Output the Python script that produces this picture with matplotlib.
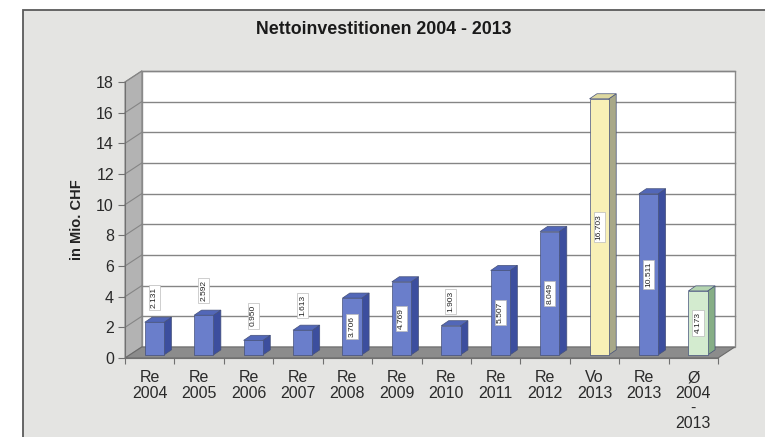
import numpy as np
import matplotlib.pyplot as plt
from matplotlib.patches import Polygon, Rectangle

# Data
categories = ['Re\n2004', 'Re\n2005', 'Re\n2006', 'Re\n2007', 'Re\n2008', 'Re\n2009',
              'Re\n2010', 'Re\n2011', 'Re\n2012', 'Vo\n2013', 'Re\n2013', 'Ø\n2004\n-\n2013']
values = [2.131, 2.592, 0.950, 1.613, 3.706, 4.769, 1.903, 5.507, 8.049, 16.703, 10.511, 4.173]
value_labels = ['2.131', '2.592', '0.950', '1.613', '3.706', '4.769', '1.903', '5.507',
                '8.049', '16.703', '10.511', '4.173']
yticks = [0, 2, 4, 6, 8, 10, 12, 14, 16, 18]

# colours (front, side, top)
blue = ('#6a7ecb', '#3c4e9e', '#5267b8')
yellow = ('#f8f0b6', '#a8a888', '#ddd8a0')
green = ('#d3ebcf', '#86ae86', '#b4d4b0')
bar_colors = [blue] * 9 + [yellow, blue, green]

# 3D look: wall depth and bar depth in data units
DX, DY = 0.34, 0.72
BDX, BDY = 0.15, 0.33
Z0 = 0.2          # bar base sits slightly behind the front edge
X0, W = 0.40, 0.39

fig = plt.figure(figsize=(7.65, 4.37), dpi=100)
fig.patch.set_facecolor('white')

# grey panel with dark frame
panel = Rectangle((23 / 765, -0.01), 1.0, 1 - 10 / 437 + 0.01, transform=fig.transFigure,
                  facecolor='#e4e4e2', edgecolor='#5a5a5a', linewidth=1.3, zorder=-1)
fig.patches.append(panel)

ax = fig.add_axes([125 / 765, (437 - 358) / 437, (718 - 125) / 765, (358 - 82) / 437])
ax.set_xlim(0, 12)
ax.set_ylim(0, 18)
ax.patch.set_visible(False)
for s in ['top', 'right']:
    ax.spines[s].set_visible(False)
ax.spines['left'].set_color('#707070')
ax.spines['bottom'].set_color('#707070')
ax.spines['left'].set_zorder(5)
ax.spines['bottom'].set_zorder(5)

n = len(values)

# back wall
ax.add_patch(Polygon([(DX, DY), (n + DX, DY), (n + DX, 18 + DY), (DX, 18 + DY)],
                     closed=True, facecolor='white', edgecolor='#8a8a8a', lw=1.0,
                     clip_on=False, zorder=1))
# side wall
ax.add_patch(Polygon([(0, 0), (DX, DY), (DX, 18 + DY), (0, 18)], closed=True,
                     facecolor='#b3b3b3', edgecolor='#8a8a8a', lw=0.8, clip_on=False, zorder=1))
# floor
ax.add_patch(Polygon([(0, 0), (n, 0), (n + DX, DY), (DX, DY)], closed=True,
                     facecolor='#8c8c8c', edgecolor='#6a6a6a', lw=0.8, clip_on=False, zorder=1))

# gridlines on back wall and side wall
for t in yticks[1:]:
    ax.plot([DX, n + DX], [t + DY, t + DY], color='#858585', lw=1.0, clip_on=False, zorder=2)
    ax.plot([0, DX], [t, t + DY], color='#858585', lw=0.8, clip_on=False, zorder=2)

# bars
for i, (v, lab, c) in enumerate(zip(values, value_labels, bar_colors)):
    x1 = i + X0
    x2 = x1 + W
    y1 = Z0
    y2 = Z0 + v
    front, side, top = c
    ax.add_patch(Polygon([(x2, y1), (x2 + BDX, y1 + BDY), (x2 + BDX, y2 + BDY), (x2, y2)],
                         closed=True, facecolor=side, edgecolor='#44507a', lw=0.5,
                         clip_on=False, zorder=3))
    ax.add_patch(Polygon([(x1, y2), (x2, y2), (x2 + BDX, y2 + BDY), (x1 + BDX, y2 + BDY)],
                         closed=True, facecolor=top, edgecolor='#44507a', lw=0.5,
                         clip_on=False, zorder=3))
    ax.add_patch(Rectangle((x1, y1), W, v, facecolor=front, edgecolor='#44507a', lw=0.5,
                           clip_on=False, zorder=3))
    if v < 3:
        ty = v + 1.8
    else:
        ty = Z0 + v / 2
    ax.text(x1 + W / 2, ty, lab, rotation=90, ha='center', va='center', fontsize=6,
            family='Liberation Sans', color='#222222', zorder=4,
            bbox=dict(boxstyle='square,pad=0.25', facecolor='white', edgecolor='#bbbbbb', lw=0.5))

# axes ticks and labels
ax.set_yticks(yticks)
ax.set_yticklabels([str(t) for t in yticks], fontsize=11.5, family='Liberation Sans',
                   color='#2a2a2a')
ax.tick_params(axis='y', length=5, width=0.8, color='#707070', pad=3)
ax.set_xticks(np.arange(n) + 0.5)
ax.set_xticklabels(categories, fontsize=11.5, family='Liberation Sans', color='#2a2a2a',
                   linespacing=1.0)
ax.tick_params(axis='x', which='major', length=0, pad=9)
ax.set_xticks(np.arange(n + 1), minor=True)
ax.tick_params(axis='x', which='minor', length=4, width=0.8, color='#707070')

ax.set_ylabel('in Mio. CHF', fontsize=10.5, fontweight='bold', family='Liberation Sans',
              color='#222222', labelpad=9)

fig.text(384 / 765, 1 - 29 / 437, 'Nettoinvestitionen 2004 - 2013', ha='center', va='center',
         fontsize=12.8, fontweight='bold', family='Liberation Sans', color='#1a1a1a')

fig.savefig('out.png', dpi=100)
